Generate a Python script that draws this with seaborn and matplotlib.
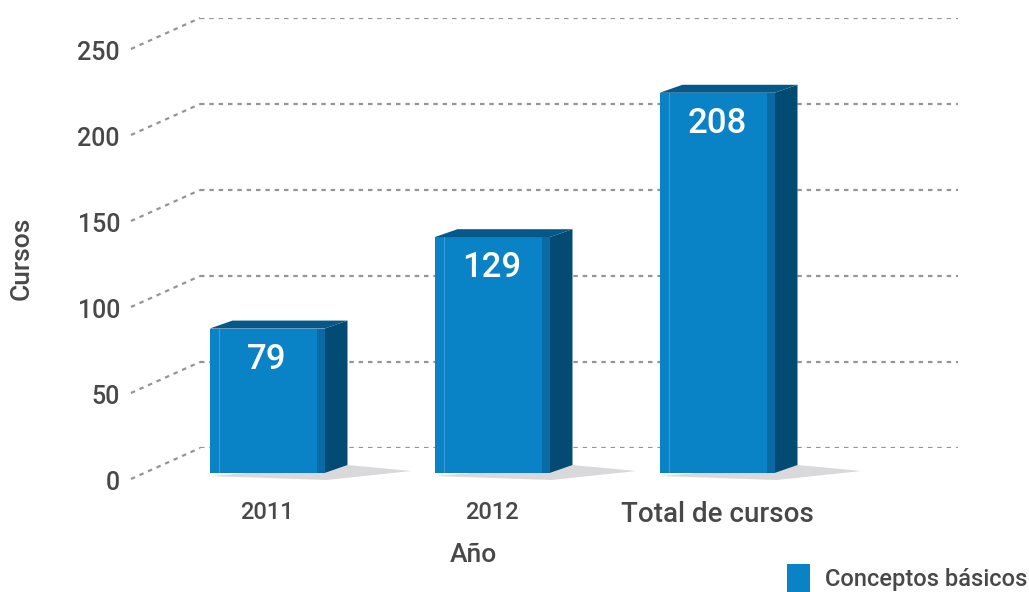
####
#imports
####

import matplotlib
matplotlib.use("Agg")
import matplotlib.pyplot as plt
from matplotlib.patches import Polygon, Rectangle
from matplotlib.transforms import ScaledTranslation
import seaborn as sns

####
#data
####

categories = ["2011", "2012", "Total de cursos"]
cursos = [79, 129, 208]
y_ticks = [0, 50, 100, 150, 200, 250]
series_name = "Conceptos básicos"
x_title = "Año"
y_title = "Cursos"

####
#style
####

W, H = 1029, 592
FRONT = "#0a82c6"
STRIP = "#0a6aa6"
LIGHT = "#3d9dd6"
SIDE = "#034b73"
TOP = "#05598a"
SHADOW = "#d9d9db"
GRID = "#959595"
TEXT = "#484848"
WEIGHT = "medium"

BAR_STEP = 225.0      # px between bar centres
FIRST_CENTRE = 267.0  # px of first bar centre
FRONT_PX = (150, 16, 958, 473)   # left, top, right, bottom (pixels from top-left)
BACK_PX = (200, 18, 958, 448)
DEPTH = (23, 8)       # bar depth in px (right, up)

####
#defs
####

def px_box(x0, y0, x1, y1):
    return [x0 / W, 1 - y1 / H, (x1 - x0) / W, (y1 - y0) / H]


def draw_back_wall(fig):
    ax_back = fig.add_axes(px_box(*BACK_PX))
    ax_back.set_xlim(0, 1)
    ax_back.set_ylim(0, 250)
    ax_back.axis("off")
    dash = (0, (2.0, 2.2))
    for v in y_ticks:
        ax_back.axhline(v, color=GRID, lw=1.6, ls=dash)
        # slanted connector from the tick label to the back wall
        end = ax_back.transData.transform((0, v))
        start = ax_back.transData.inverted().transform((end[0] - 69, end[1] - 31))
        ax_back.plot([start[0], 0], [start[1], v], color=GRID, lw=1.6, ls=dash,
                     clip_on=False)
        off = ScaledTranslation(-0.80, -0.35, fig.dpi_scale_trans)
        ax_back.text(0, v, str(v), transform=ax_back.transData + off,
                     ha="right", va="center", fontsize=18, color=TEXT,
                     fontweight=WEIGHT)
    return ax_back


def draw_bars(fig):
    ax = fig.add_axes(px_box(*FRONT_PX))
    ax.patch.set_alpha(0)
    sns.barplot(x=categories, y=cursos, ax=ax, color=FRONT, saturation=1,
                width=115 / BAR_STEP, linewidth=0, label=series_name, zorder=3)
    left = (FRONT_PX[0] - FIRST_CENTRE) / BAR_STEP
    right = (FRONT_PX[2] - FIRST_CENTRE) / BAR_STEP
    ax.set_xlim(left, right)
    ax.set_ylim(0, 250)

    ux = 1 / BAR_STEP                                  # data units per px (x)
    uy = 250 / (FRONT_PX[3] - FRONT_PX[1])             # data units per px (y)
    dx, dy = DEPTH[0] * ux, DEPTH[1] * uy

    for p in list(ax.patches):
        x0, w, h = p.get_x(), p.get_width(), p.get_height()
        x1 = x0 + w
        shadow = [(x0, -3 * uy), (x1 + 2 * ux, -7 * uy), (x1 + 87 * ux, 2 * uy),
                  (x1 + dx, dy)]
        ax.add_patch(Polygon(shadow, closed=True, color=SHADOW, lw=0,
                             zorder=1, clip_on=False))
        ax.add_patch(Polygon([(x1, 0), (x1, h), (x1 + dx, h + dy), (x1 + dx, dy)],
                             closed=True, color=SIDE, lw=0, zorder=3, clip_on=False))
        ax.add_patch(Polygon([(x0, h), (x1, h), (x1 + dx, h + dy), (x0 + dx, h + dy)],
                             closed=True, color=TOP, lw=0, zorder=3, clip_on=False))
        ax.add_patch(Rectangle((x1 - 8 * ux, 0), 8 * ux, h, color=STRIP, lw=0,
                               zorder=4))
        ax.plot([x0 + 9 * ux] * 2, [0, h], color=LIGHT, lw=0.8, zorder=4)
        ax.annotate(f"{h:.0f}", (x0 + w / 2, h), xytext=(0, -22),
                    textcoords="offset points", ha="center", va="center",
                    color="white", fontsize=25, fontweight=WEIGHT, zorder=5)

    handles, labels = ax.get_legend_handles_labels()
    if ax.get_legend() is not None:
        ax.get_legend().remove()

    sns.despine(ax=ax, left=True, bottom=True)
    ax.set_yticks([])
    ax.tick_params(axis="x", length=0, pad=20, colors=TEXT)
    ticklabels = ax.get_xticklabels()
    for i, lab in enumerate(ticklabels):
        lab.set_fontsize(20 if i == len(ticklabels) - 1 else 17)
        lab.set_color(TEXT)
        lab.set_fontweight(WEIGHT)

    ax.set_xlabel(x_title, fontsize=19, color=TEXT, va="center", fontweight=WEIGHT)
    ax.xaxis.set_label_coords(473 / W, 1 - 555 / H, transform=fig.transFigure)
    ax.set_ylabel(y_title, fontsize=19, color=TEXT, va="center", fontweight=WEIGHT)
    ax.yaxis.set_label_coords(22 / W, 1 - 258 / H, transform=fig.transFigure)
    return ax, handles, labels


def main():
    sns.set_style("white")
    plt.rcParams["font.family"] = ["Roboto", "DejaVu Sans"]
    fig = plt.figure(figsize=(W / 100, H / 100), dpi=100)
    draw_back_wall(fig)
    ax, handles, labels = draw_bars(fig)

    leg = fig.legend(handles, labels, loc="center right",
                     bbox_to_anchor=(1027 / W, 1 - 578 / H), frameon=False,
                     borderaxespad=0, borderpad=0, fontsize=17, labelcolor=TEXT,
                     handlelength=1.0, handleheight=1.5, handletextpad=0.6)
    for t in leg.get_texts():
        t.set_fontweight(WEIGHT)
    fig.savefig("out.png", dpi=100)
    plt.close(fig)


if __name__ == '__main__':
    main()
